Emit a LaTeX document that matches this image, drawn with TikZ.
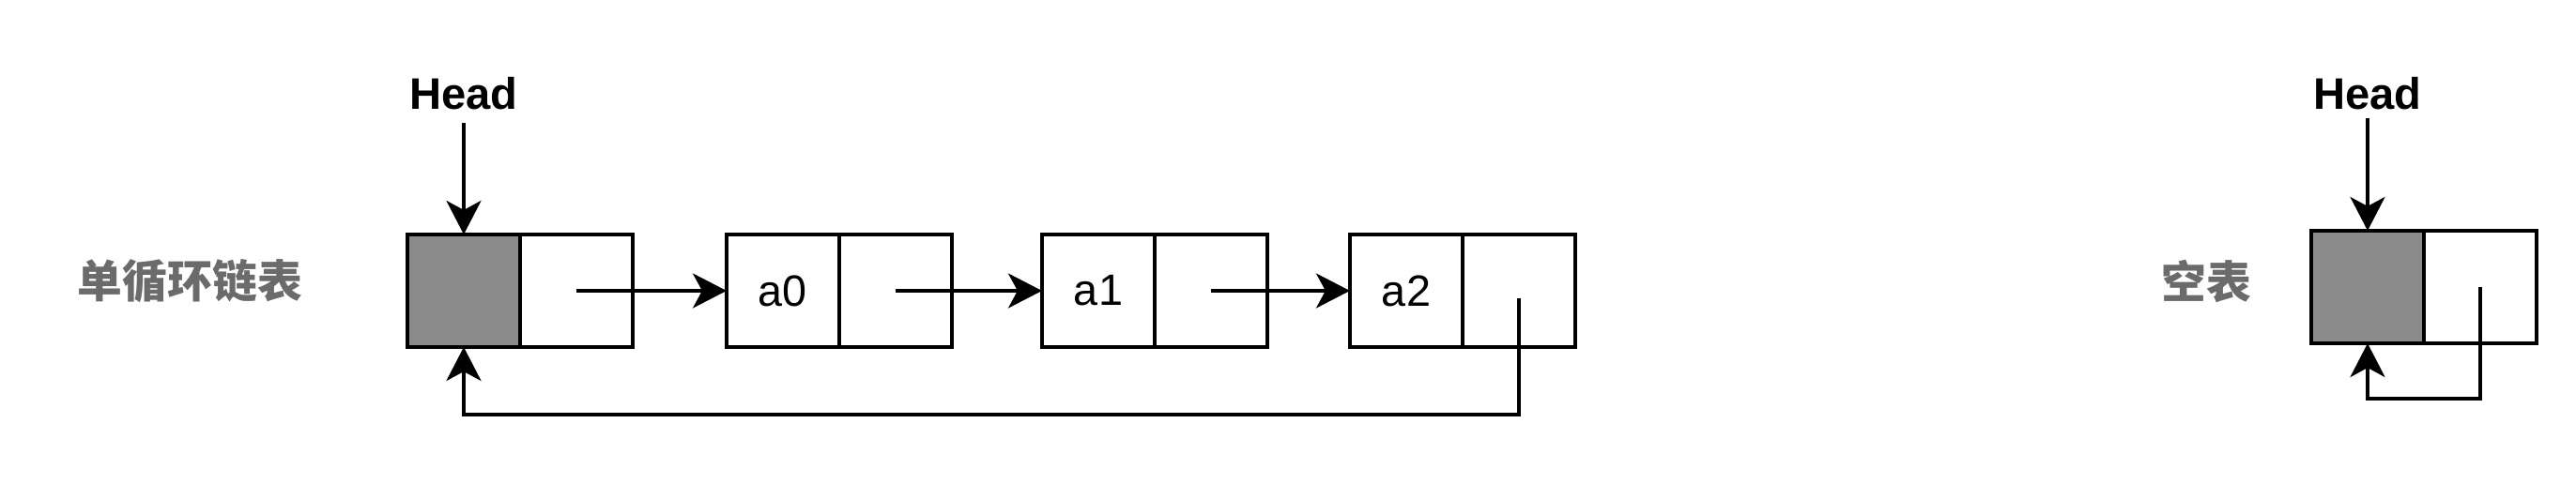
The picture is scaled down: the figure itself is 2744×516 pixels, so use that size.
\documentclass[tikz,border=0pt]{standalone}
\usepackage{fontspec}
\setmainfont{Liberation Sans}
\newfontfamily\cjk{Noto Sans CJK SC}
\usetikzlibrary{arrows.meta}
\definecolor{cellgray}{HTML}{8A8A8A}
\definecolor{labelgray}{HTML}{6B6B6B}
\tikzset{
  cell/.style={draw, line width=1pt, minimum width=1.2cm, minimum height=1.2cm,
    inner sep=0pt, outer sep=0pt, font=\fontsize{13.3pt}{15pt}\selectfont},
  headcell/.style={cell, fill=cellgray},
  arr/.style={line width=0.95pt, -{Stealth[length=0.36cm, width=0.37cm, inset=0.1cm]}},
  headlabel/.style={font=\fontsize{13.4pt}{15pt}\selectfont\bfseries, inner sep=0pt, anchor=base},
  cnlabel/.style={font=\cjk\bfseries\fontsize{13.6pt}{16pt}\selectfont, text=labelgray, inner sep=0pt}
}
\begin{document}
\begin{tikzpicture}[x=0.01cm, y=-0.01cm]
\useasboundingbox[fill=white] (0,0) rectangle (2744,516);

% left: circular singly linked list
\node[cnlabel] (lab1) at (202.5,300) {单循环链表};
\node[headlabel] (head1) at (494,117) {Head};
\node[headcell] (h0l) at (494,310) {};
\node[cell] (h0r) at (614,310) {};
\node[cell] (n0l) at (834,310) {a0};
\node[cell] (n0r) at (954,310) {};
\node[cell] (n1l) at (1170,310) {a1};
\node[cell] (n1r) at (1290,310) {};
\node[cell] (n2l) at (1498,310) {a2};
\node[cell] (n2r) at (1618,310) {};

\draw[arr, shorten <=0.13cm] (head1.south) -- (h0l.north);
\draw[arr] (h0r.center) -- (n0l.west);
\draw[arr] (n0r.center) -- (n1l.west);
\draw[arr] (n1r.center) -- (n2l.west);
\coordinate (r1) at (1618,318);
\coordinate (rb1) at (0,442);
\draw[arr] (r1) -- (r1 |- rb1) -| (h0l.south);

% right: empty list
\node[cnlabel] (lab2) at (2350,300) {空表};
\node[headlabel] (head2) at (2522,117) {Head};
\node[headcell] (e0l) at (2522,306) {};
\node[cell] (e0r) at (2642,306) {};
\draw[arr, shorten <=0.08cm] (head2.south) -- (e0l.north);
\coordinate (rb2) at (0,425);
\draw[arr] (e0r.center) -- (e0r.center |- rb2) -| (e0l.south);
\end{tikzpicture}
\end{document}
